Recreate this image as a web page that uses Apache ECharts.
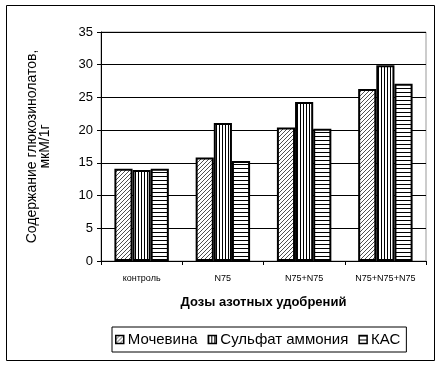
<!DOCTYPE html>
<html><head><meta charset="utf-8">
<script src="https://cdn.jsdelivr.net/npm/echarts@6/dist/echarts.min.js"></script>
<style>html,body{margin:0;padding:0;background:#fff}#c{width:443px;height:368px}</style>
</head><body><div id="c"></div>
<script>
var categories = ['контроль', 'N75', 'N75+N75', 'N75+N75+N75'];
var seriesNames = ['Мочевина', 'Сульфат аммония', 'КАС'];
var urea = [14.1, 15.8, 20.4, 26.3];
var ammSulfate = [13.9, 21.1, 24.3, 29.9];
var kas = [14.1, 15.3, 20.2, 27.1];
var yTicks = [0, 5, 10, 15, 20, 25, 30, 35];

function makePattern(w, h, fn, color) {
  var cv = document.createElement('canvas');
  cv.width = w; cv.height = h;
  var ctx = cv.getContext('2d');
  var img = ctx.createImageData(w, h);
  for (var y = 0; y < h; y++) for (var x = 0; x < w; x++) {
    var i = (y * w + x) * 4;
    var on = fn(x, y);
    var c = on ? color : [255, 255, 255];
    img.data[i] = c[0]; img.data[i + 1] = c[1]; img.data[i + 2] = c[2]; img.data[i + 3] = 255;
  }
  ctx.putImageData(img, 0, 0);
  return { image: cv, repeat: 'repeat' };
}
var diag = makePattern(4, 4, function (x, y) { return (x + y) % 4 === 3; }, [80, 80, 80]);
var vert = makePattern(3, 1, function (x, y) { return x === 0; }, [0, 0, 0]);
var horiz = makePattern(1, 4, function (x, y) { return y === 0; }, [0, 0, 0]);
var patterns = [diag, vert, horiz];
var datas = [urea, ammSulfate, kas];

var chart = echarts.init(document.getElementById('c'), null, { renderer: 'canvas' });
var series = seriesNames.map(function (n, i) {
  return {
    name: n, type: 'bar', data: datas[i], barGap: '0%', barCategoryGap: '33%',
    itemStyle: { color: patterns[i], borderColor: '#000', borderWidth: 2 },
    emphasis: { disabled: true }
  };
});
chart.setOption({
  animation: false,
  textStyle: { fontFamily: 'Arial, "Liberation Sans", sans-serif' },
  grid: { left: 101, top: 32, right: 17, bottom: 107, show: true, borderColor: '#999', borderWidth: 1 },
  xAxis: {
    type: 'category', data: categories,
    axisLine: { lineStyle: { color: '#000', width: 1 } },
    axisTick: { show: true, length: 4, lineStyle: { color: '#000' } },
    axisLabel: { fontSize: 9, color: '#000', margin: 13, interval: 0 },
    name: 'Дозы азотных удобрений', nameLocation: 'middle', nameGap: 35,
    nameTextStyle: { fontSize: 13, fontWeight: 'bold', color: '#000' }
  },
  yAxis: {
    type: 'value', min: 0, max: 35, interval: 5,
    axisLine: { show: true, lineStyle: { color: '#000', width: 1 } },
    axisTick: { show: true, length: 4, lineStyle: { color: '#000' } },
    axisLabel: { fontSize: 13, color: '#000', margin: 8 },
    splitLine: { lineStyle: { color: '#000', width: 1 } },
    name: 'Содержание глюкозинолатов,\nмкМ/1г', nameLocation: 'middle', nameGap: 49, nameRotate: 90,
    nameTextStyle: { fontSize: 14, color: '#000', lineHeight: 13 }
  },
  legend: {
    data: seriesNames, left: 112, top: 327, orient: 'horizontal',
    padding: [5, 6, 5, 3], itemGap: 10, itemWidth: 8, itemHeight: 8, icon: 'rect',
    borderColor: '#000', borderWidth: 1,
    itemStyle: { borderColor: '#000', borderWidth: 1.5 },
    textStyle: { fontSize: 15, color: '#000', padding: [0, 0, 0, -1] }
  },
  graphic: [{
    type: 'rect', shape: { x: 6.5, y: 5.5, width: 428, height: 355 },
    style: { fill: 'none', stroke: '#000', lineWidth: 1 }, z: -1
  }],
  series: series
});
</script></body></html>
